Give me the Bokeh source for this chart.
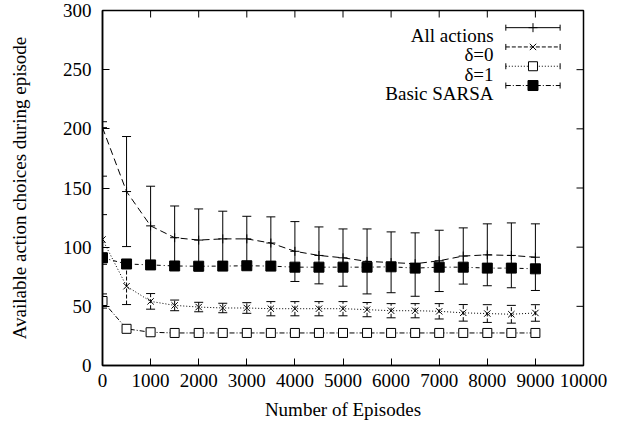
import math
from bokeh.plotting import figure
from bokeh.models import Range1d, Whisker, TeeHead, ColumnDataSource, FixedTicker
from bokeh.core.properties import value
from bokeh.embed import file_html
from bokeh.resources import INLINE

# ---------------- data ----------------
episodes = [0, 500, 1000, 1500, 2000, 2500, 3000, 3500, 4000, 4500,
            5000, 5500, 6000, 6500, 7000, 7500, 8000, 8500, 9000]

all_mean = [201, 147, 118, 108, 106, 107, 107, 103.5, 96.5, 93,
            91, 88, 87, 86, 88.5, 92.5, 93.5, 93, 91.5]
all_low = [160, 100.5, 84.5, 81.5, 80, 83, 87, 81.5, 71, 69,
           67, 60.5, 61.5, 58.5, 62.5, 68.8, 67.4, 65.7, 63.4]
all_high = [206, 193.5, 151.5, 134.8, 132.3, 130.4, 126.1, 125.6, 121.6, 117.1,
            115.4, 115.4, 112.9, 112.1, 114.3, 116.3, 119.7, 120.5, 119.7]

d0_mean = [106.5, 67, 54.2, 50.8, 49.4, 48.6, 48.6, 48, 48, 48,
           48, 47.2, 46.3, 46.3, 45.8, 44.5, 43.9, 43.3, 44.4]
d0_err = [21, 15.5, 6.6, 4.5, 4, 4, 4.5, 6, 6, 6,
          6, 6, 6, 6, 6.5, 7, 7.5, 7.5, 7]

d1_mean = [54.5, 31, 28.1, 27.5, 27.5, 27.5, 27.5, 27.5, 27.5, 27.5,
           27.5, 27.5, 27.5, 27.5, 27.5, 27.5, 27.5, 27.5, 27.5]
d1_err = [6, 2.5, 2, 2, 2, 2, 2, 2, 2, 2,
          2, 2, 2, 2, 2, 2, 2, 2, 2]

sarsa_mean = [91, 85.8, 85, 84.1, 83.9, 84, 84.3, 84, 83.1, 83.1,
              83.1, 83.1, 83.4, 82.3, 83.1, 83.1, 82.3, 82.3, 81.7]
sarsa_err = [4, 3, 3, 3, 3, 3, 3, 3, 3, 3,
             3, 3, 3, 3, 3, 3, 3, 3, 3]

x_ticks = [0, 1000, 2000, 3000, 4000, 5000, 6000, 7000, 8000, 9000, 10000]
y_ticks = [0, 50, 100, 150, 200, 250, 300]

legend_labels = ["All actions", "\u03b4=0", "\u03b4=1", "Basic SARSA"]

# ---------------- figure ----------------
FONT = "Liberation Serif"
FS = "19px"
X0, X1, Y0, Y1 = 0, 10000, 0, 300

p = figure(width=630, height=433, output_backend="svg", toolbar_location=None,
           x_range=Range1d(X0, X1), y_range=Range1d(Y0, Y1),
           min_border_left=102, min_border_right=47, min_border_top=10, min_border_bottom=68,
           background_fill_color="white", border_fill_color="white")
p.xgrid.visible = False
p.ygrid.visible = False
p.outline_line_color = "black"
p.outline_line_width = 1.5

p.xaxis.axis_label = "Number of Episodes"
p.yaxis.axis_label = "Available action choices during episode"

for ax in p.xaxis + p.yaxis:
    ax.axis_label_text_font = FONT
    ax.axis_label_text_font_size = FS
    ax.axis_label_text_font_style = "normal"
    ax.axis_label_text_color = "black"
    ax.major_label_text_font = FONT
    ax.major_label_text_font_size = FS
    ax.major_label_text_color = "black"
    ax.major_tick_in = 7
    ax.major_tick_out = 0
    ax.minor_tick_in = 0
    ax.minor_tick_out = 0
    ax.axis_line_width = 1.5
    ax.major_tick_line_width = 1

p.xaxis.ticker = FixedTicker(ticks=x_ticks)
p.yaxis.ticker = FixedTicker(ticks=y_ticks)
p.xaxis.major_label_standoff = 8
p.xaxis.axis_label_standoff = 9
p.yaxis.major_label_standoff = 11
p.yaxis.axis_label_standoff = 30

# mirrored inward ticks on the top and right edges (gnuplot "mirror")
tick_dx = (X1 - X0) * 7 / 481.0
tick_dy = (Y1 - Y0) * 7 / 355.0
p.segment(x0=x_ticks, y0=[Y1] * len(x_ticks), x1=x_ticks, y1=[Y1 - tick_dy] * len(x_ticks),
          line_color="black", line_width=1)
p.segment(x0=[X1] * len(y_ticks), y0=y_ticks, x1=[X1 - tick_dx] * len(y_ticks), y1=y_ticks,
          line_color="black", line_width=1)

# ---------------- series ----------------
def whisker(lows, highs, dash):
    src = ColumnDataSource(dict(x=episodes, lo=lows, hi=highs))
    w = Whisker(base="x", lower="lo", upper="hi", source=src,
                line_color="black", line_width=1, line_dash=dash,
                upper_head=TeeHead(size=9, line_color="black", line_width=1),
                lower_head=TeeHead(size=9, line_color="black", line_width=1))
    p.add_layout(w)

# All actions
whisker(all_low, all_high, "solid")
p.line(episodes, all_mean, line_color="black", line_width=1, line_dash="7 4")
p.scatter(episodes, all_mean, marker="cross", size=9, line_color="black", line_width=1)

# delta = 0
whisker([m - e for m, e in zip(d0_mean, d0_err)], [m + e for m, e in zip(d0_mean, d0_err)], "4 2")
p.line(episodes, d0_mean, line_color="black", line_width=1, line_dash="1 2")
p.scatter(episodes, d0_mean, marker="x", size=9, line_color="black", line_width=1)

# delta = 1
whisker([m - e for m, e in zip(d1_mean, d1_err)], [m + e for m, e in zip(d1_mean, d1_err)], "1 2")
p.line(episodes, d1_mean, line_color="black", line_width=1, line_dash="5 2 1 2")
p.scatter(episodes, d1_mean, marker="square", size=9, line_color="black",
          fill_color="white", line_width=1)

# Basic SARSA
whisker([m - e for m, e in zip(sarsa_mean, sarsa_err)], [m + e for m, e in zip(sarsa_mean, sarsa_err)], "5 2 1 2")
p.line(episodes, sarsa_mean, line_color="black", line_width=1, line_dash="4 3 1 3")
p.scatter(episodes, sarsa_mean, marker="square", size=10, line_color="black",
          fill_color="black", line_width=1)

# ---------------- legend (gnuplot style: text right-aligned, sample on the right) ----------------
leg_rows = [285.5, 269.2, 252.9, 236.6]
leg_text_x = 8130
leg_x0, leg_x1, leg_xm = 8385, 9514, 8950
leg_dash = ["solid", "4 2", "1 2", "5 2 1 2"]
leg_marker = ["cross", "x", "square", "square"]
leg_fill = [None, None, "white", "black"]
leg_size = [9, 9, 9, 10]

p.text(x=[leg_text_x] * 4, y=[r - 6.7 for r in leg_rows], text=legend_labels,
       text_font=value(FONT), text_font_size=FS, text_align="right",
       text_baseline="alphabetic", text_color="black")
for i, r in enumerate(leg_rows):
    p.segment(x0=[leg_x0], y0=[r], x1=[leg_x1], y1=[r], line_color="black",
              line_width=1, line_dash=leg_dash[i])
    p.scatter(x=[leg_x0, leg_x1], y=[r, r], marker="dash", angle=math.pi / 2,
              size=6, line_color="black", line_width=1)
    if leg_fill[i] is None:
        p.scatter(x=[leg_xm], y=[r], marker=leg_marker[i], size=leg_size[i],
                  line_color="black", line_width=1)
    else:
        p.scatter(x=[leg_xm], y=[r], marker=leg_marker[i], size=leg_size[i],
                  line_color="black", fill_color=leg_fill[i], line_width=1)

open("out.html", "w").write(file_html(p, INLINE))
